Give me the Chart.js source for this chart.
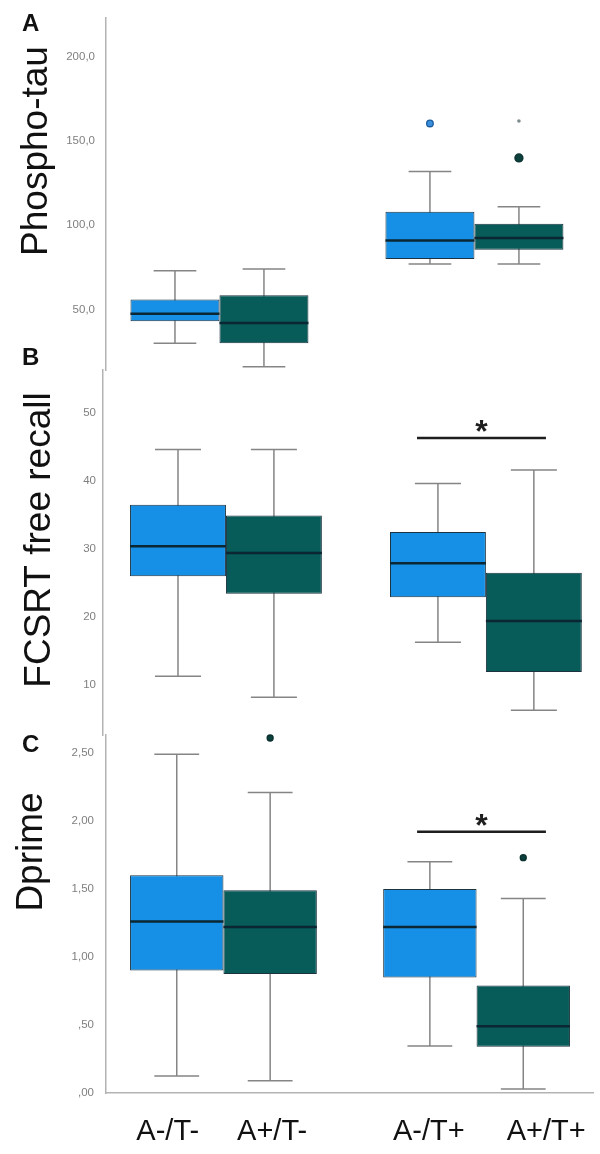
<!DOCTYPE html>
<html><head><meta charset="utf-8">
<script src="https://cdn.jsdelivr.net/npm/chart.js@4.4.1/dist/chart.umd.min.js"></script>
<style>
html,body{margin:0;padding:0;background:#fff;}
.layer{position:absolute;left:0;top:0;width:600px;height:1154px;}
</style></head><body>
<div class="layer"><canvas id="cA"></canvas></div>
<div class="layer"><canvas id="cB"></canvas></div>
<div class="layer"><canvas id="cC"></canvas></div>
<script>
// ---------- DATA (box order: A-/T-, A+/T-, A-/T+, A+/T+) ----------
const boxLabels = ['A-/T-', 'A+/T-', 'A-/T+', 'A+/T+'];
const seriesNames = ['A-', 'A+'];
const groupPos = [1, 2];           // T- group, T+ group

// Panel A: Phospho-tau
const tauLow  = [30, 16, 77, 77];
const tauQ1   = [43, 30, 80, 85.5];
const tauMed  = [47.5, 42, 91, 92.5];
const tauQ3   = [56, 58.5, 108, 101];
const tauHigh = [73, 74, 132, 111];
const tauOutliers = [[], [], [160.5], [140]];
const tauExtremes = [[], [], [], [162]];
const tauTicks = [50, 100, 150, 200];
const tauTickLabels = ['50,0', '100,0', '150,0', '200,0'];

// Panel B: FCSRT free recall
const fcsLow  = [11.3, 8.2, 16.3, 6.3];
const fcsQ1   = [26, 23.4, 22.9, 11.9];
const fcsMed  = [30.4, 29.4, 27.9, 19.4];
const fcsQ3   = [36.5, 34.9, 32.5, 26.5];
const fcsHigh = [44.6, 44.6, 39.6, 41.6];
const fcsOutliers = [[], [], [], []];
const fcsTicks = [10, 20, 30, 40, 50];
const fcsTickLabels = ['10', '20', '30', '40', '50'];
const fcsSigValue = 46.3;

// Panel C: Dprime
const dpLow  = [0.125, 0.09, 0.345, 0.03];
const dpQ1   = [0.90, 0.875, 0.85, 0.34];
const dpMed  = [1.26, 1.22, 1.22, 0.49];
const dpQ3   = [1.60, 1.49, 1.50, 0.79];
const dpHigh = [2.49, 2.21, 1.70, 1.43];
const dpOutliers = [[], [2.61], [], [1.73]];
const dpTicks = [0, 0.5, 1, 1.5, 2, 2.5];
const dpTickLabels = [',00', ',50', '1,00', '1,50', '2,00', '2,50'];
const dpSigValue = 1.92;

// ---------- STYLE ----------
const FONT = "'Liberation Sans', Arial, Helvetica, sans-serif";
const fillColors = ['#1590E6', '#075B58'];
const outlierFill = ['#3a8fdc', '#0c403d'];
const outlierStroke = ['#1a5c9e', '#0a302e'];

function boxChart(id, d, L) {
  const datasets = seriesNames.map((name, s) => ({
    label: name,
    data: groupPos.map((g, gi) => ({ x: g, y: [d.q1[gi * 2 + s], d.q3[gi * 2 + s]] })),
    backgroundColor: fillColors[s],
    borderColor: '#1d3340',
    borderWidth: 1,
    borderSkipped: false,
    categoryPercentage: L.catPct,
    barPercentage: 1
  }));

  const eachBox = (chart, fn) => {
    seriesNames.forEach((n, s) => {
      const meta = chart.getDatasetMeta(s);
      meta.data.forEach((el, gi) => fn(el, gi * 2 + s, s));
    });
  };

  const plugin = {
    id: 'boxparts' + id,
    beforeDatasetsDraw(chart) {
      const ctx = chart.ctx, ys = chart.scales.y;
      ctx.save();
      ctx.strokeStyle = '#858585';
      ctx.lineWidth = 1.5;
      eachBox(chart, (el, i) => {
        const yl = ys.getPixelForValue(d.low[i]);
        const yh = ys.getPixelForValue(d.high[i]);
        const cw = el.width * 0.48;
        ctx.beginPath();
        ctx.moveTo(el.x, yh); ctx.lineTo(el.x, yl);
        ctx.moveTo(el.x - cw / 2, yh); ctx.lineTo(el.x + cw / 2, yh);
        ctx.moveTo(el.x - cw / 2, yl); ctx.lineTo(el.x + cw / 2, yl);
        ctx.stroke();
      });
      ctx.restore();
    },
    afterDatasetsDraw(chart) {
      const ctx = chart.ctx, ys = chart.scales.y, xs = chart.scales.x;
      ctx.save();
      // medians
      ctx.strokeStyle = '#0a2733';
      ctx.lineWidth = 2.5;
      eachBox(chart, (el, i) => {
        const ym = ys.getPixelForValue(d.med[i]);
        ctx.beginPath();
        ctx.moveTo(el.x - el.width / 2, ym); ctx.lineTo(el.x + el.width / 2, ym);
        ctx.stroke();
      });
      // outliers
      eachBox(chart, (el, i, s) => {
        (d.outliers[i] || []).forEach(v => {
          const yo = ys.getPixelForValue(v);
          ctx.beginPath();
          ctx.arc(el.x, yo, L.outR[s], 0, Math.PI * 2);
          ctx.fillStyle = outlierFill[s];
          ctx.fill();
          ctx.lineWidth = 1.3;
          ctx.strokeStyle = outlierStroke[s];
          ctx.stroke();
        });
        ((d.extremes && d.extremes[i]) || []).forEach(v => {
          const yo = ys.getPixelForValue(v);
          ctx.beginPath();
          ctx.arc(el.x, yo, 1.8, 0, Math.PI * 2);
          ctx.fillStyle = '#7d8c8b';
          ctx.fill();
        });
      });
      // significance
      if (d.sig !== undefined) {
        const yy = ys.getPixelForValue(d.sig);
        const x0 = xs.getPixelForValue(L.sigFrom), x1 = xs.getPixelForValue(L.sigTo);
        ctx.strokeStyle = '#1e1e1e';
        ctx.lineWidth = 2.5;
        ctx.beginPath(); ctx.moveTo(x0, yy); ctx.lineTo(x1, yy); ctx.stroke();
        ctx.fillStyle = '#1e1e1e';
        ctx.font = 'bold 32px ' + FONT;
        ctx.textAlign = 'center';
        ctx.textBaseline = 'alphabetic';
        const m = ctx.measureText('*');
        const target = yy - 12;
        const base = target - (m.actualBoundingBoxDescent - m.actualBoundingBoxAscent) / 2;
        ctx.fillText('*', (x0 + x1) / 2, base);
      }
      ctx.restore();
    },
    afterDraw(chart) {
      const ctx = chart.ctx;
      ctx.save();
      // axis title
      ctx.fillStyle = '#111';
      ctx.font = '37px ' + FONT;
      ctx.translate(L.titleX, L.titleY);
      ctx.rotate(-Math.PI / 2);
      ctx.textAlign = 'center';
      ctx.textBaseline = 'alphabetic';
      ctx.fillText(L.title, 0, 0);
      ctx.restore();
      ctx.save();
      ctx.fillStyle = '#111';
      ctx.font = 'bold 24px ' + FONT;
      ctx.textAlign = 'left';
      ctx.textBaseline = 'alphabetic';
      ctx.fillText(L.letter, L.letterX, L.letterY);
      // category labels (bottom panel)
      if (L.showCats) {
        ctx.font = '29px ' + FONT;
        ctx.textAlign = 'center';
        eachBox(chart, (el, i) => {
          ctx.fillText(boxLabels[i], el.x + L.catNudge[i], L.catBaseline);
        });
      }
      ctx.restore();
    }
  };

  return new Chart(document.getElementById(id), {
    type: 'bar',
    data: { datasets },
    options: {
      responsive: true,
      maintainAspectRatio: false,
      animation: false,
      events: [],
      layout: { padding: { top: L.top, bottom: 1154 - L.bottom, left: 0, right: 600 - L.right } },
      plugins: { legend: { display: false }, tooltip: { enabled: false } },
      scales: {
        x: {
          type: 'linear',
          offset: false,
          min: L.xMin, max: L.xMax,
          display: L.showXAxis,
          grid: { display: false, drawTicks: false },
          border: { display: true, color: '#b3b3b3', width: 1.5 },
          ticks: { display: false },
          afterBuildTicks: s => { s.ticks = groupPos.map(v => ({ value: v })); },
          afterFit: s => { s.height = 0; }
        },
        y: {
          min: L.yMin, max: L.yMax,
          grid: { display: false, drawTicks: false },
          border: { display: true, color: '#b3b3b3', width: 1.5 },
          afterBuildTicks: s => { s.ticks = d.ticks.map(v => ({ value: v })); },
          afterFit: s => { s.width = L.left; },
          ticks: {
            padding: L.tickPad,
            color: '#7f7f7f',
            font: { family: FONT, size: 11.5 },
            callback: (v, i) => d.tickLabels[i]
          }
        }
      }
    },
    plugins: [plugin]
  });
}

boxChart('cA',
  { low: tauLow, q1: tauQ1, med: tauMed, q3: tauQ3, high: tauHigh, outliers: tauOutliers, extremes: tauExtremes, ticks: tauTicks, tickLabels: tauTickLabels },
  { top: 13, bottom: 370, left: 106, right: 593, yMin: 14.06, yMax: 223.2, xMin: 0.555, xMax: 2.465, catPct: 0.698,
    showXAxis: false, tickPad: 11, title: 'Phospho-tau', titleX: 47, titleY: 151, letter: 'A', letterX: 22, letterY: 31,
    outR: [3.3, 4] });

boxChart('cB',
  { low: fcsLow, q1: fcsQ1, med: fcsMed, q3: fcsQ3, high: fcsHigh, outliers: fcsOutliers, ticks: fcsTicks, tickLabels: fcsTickLabels, sig: fcsSigValue },
  { top: 370, bottom: 735, left: 103, right: 593, yMin: 2.65, yMax: 56.3, xMin: 0.527, xMax: 2.412, catPct: 0.738,
    showXAxis: false, tickPad: 7, title: 'FCSRT free recall', titleX: 50, titleY: 540, letter: 'B', letterX: 22, letterY: 365,
    sigFrom: 1.735, sigTo: 2.231, outR: [3, 3] });

boxChart('cC',
  { low: dpLow, q1: dpQ1, med: dpMed, q3: dpQ3, high: dpHigh, outliers: dpOutliers, ticks: dpTicks, tickLabels: dpTickLabels, sig: dpSigValue },
  { top: 735, bottom: 1093, left: 106, right: 593, yMin: 0, yMax: 2.632, xMin: 0.536, xMax: 2.46, catPct: 0.738,
    showXAxis: true, tickPad: 12, title: 'Dprime', titleX: 42, titleY: 852, letter: 'C', letterX: 22, letterY: 752,
    sigFrom: 1.765, sigTo: 2.274, outR: [3, 3],
    showCats: true, catNudge: [-9, 2, -1, 23], catBaseline: 1140 });
</script>
</body></html>
